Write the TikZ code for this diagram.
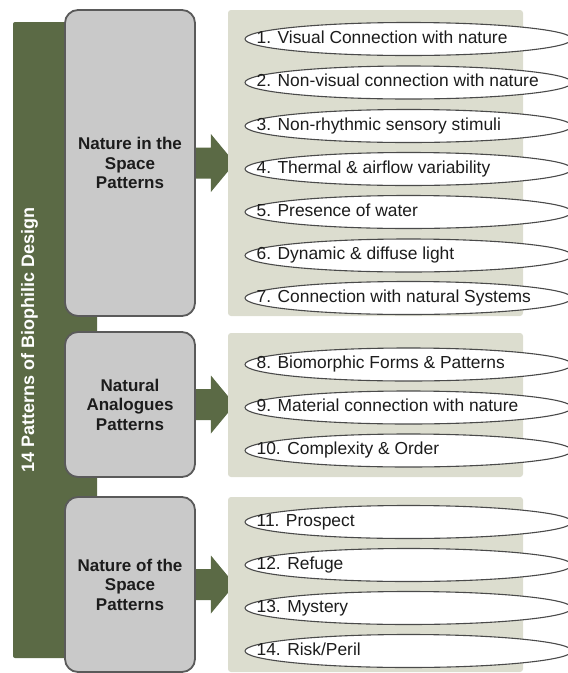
\documentclass[tikz,border=0pt]{standalone}
\usepackage{fontspec}
\setmainfont{Liberation Sans}
\usetikzlibrary{calc,shapes.geometric}
\definecolor{barg}{HTML}{5B6A45}
\definecolor{boxfill}{HTML}{C9C9C9}
\definecolor{boxline}{HTML}{5A5A5A}
\definecolor{panelc}{HTML}{DCDDCF}
\definecolor{elline}{HTML}{4A4A4A}
\definecolor{txt}{HTML}{1C1C1C}
\pgfdeclarelayer{bg}
\pgfsetlayers{bg,main}
\tikzset{
  catbox/.style={draw=boxline, line width=1.8pt, fill=boxfill, rounded corners=13pt,
    minimum width=130pt, inner sep=0pt, align=center, text=txt,
    font=\fontsize{17}{19.5}\selectfont\bfseries},
  panel/.style={fill=panelc, rounded corners=3pt, minimum width=295pt, inner sep=0pt},
  ell/.style={ellipse, draw=elline, line width=1.1pt, fill=white,
    minimum width=327pt, minimum height=33pt, inner sep=0pt},
  etext/.style={anchor=west, inner sep=0pt, text=txt, text height=12.5pt, text depth=3.7pt,
    font=\fontsize{17.4}{20}\selectfont},
  arr/.style={fill=barg},
}
\begin{document}
\begin{tikzpicture}[x=1pt,y=-1pt]
\useasboundingbox (0,0) rectangle (568,673);
\clip (0,0) rectangle (568,673);
% green bar and title
\node[fill=barg, rounded corners=2pt, minimum width=84pt, minimum height=636pt, inner sep=0pt] (bar) at (55,340) {};
\node[rotate=90, inner sep=0pt, text=white, font=\fontsize{18}{20}\selectfont\bfseries] (title) at (29.5,340) {14 Patterns of Biophilic Design};
% panels
\node[panel, minimum height=306pt] (p1) at (375.5,163) {};
\node[panel, minimum height=144pt] (p2) at (375.5,405) {};
\node[panel, minimum height=175pt] (p3) at (375.5,584.5) {};
% category boxes
\node[catbox, minimum height=306pt] (b1) at (130,163) {Nature in the\\Space\\Patterns};
\node[catbox, minimum height=145pt] (b2) at (130,404.5) {Natural\\Analogues\\Patterns};
\node[catbox, minimum height=175pt] (b3) at (130,584.5) {Nature of the\\Space\\Patterns};
% arrows
\begin{pgfonlayer}{bg}
\foreach \b in {b1,b2,b3}{
  \fill[arr] ($(\b.east)+(-2,-15.5)$) -- ($(\b.east)+(15,-15.5)$) -- ($(\b.east)+(15,-29)$)
    -- ($(\b.east)+(39,0)$) -- ($(\b.east)+(15,29)$) -- ($(\b.east)+(15,15.5)$)
    -- ($(\b.east)+(-2,15.5)$) -- cycle;
}
\end{pgfonlayer}
% ellipses
\foreach \n/\y/\t in {
  1/39/{1. Visual Connection with nature},
  2/82.5/{2. Non-visual connection with nature},
  3/126/{3. Non-rhythmic sensory stimuli},
  4/169/{4. Thermal \& airflow variability},
  5/212/{5. Presence of water},
  6/255.5/{6. Dynamic \& diffuse light},
  7/298/{7. Connection with natural Systems},
  8/364.5/{8. Biomorphic Forms \& Patterns},
  9/407.5/{9. Material connection with nature},
  10/450.5/{10. Complexity \& Order},
  11/522/{11. Prospect},
  12/565/{12. Refuge},
  13/608/{13. Mystery},
  14/651/{14. Risk/Peril}}{
  \node[ell] (e\n) at (408.5,\y) {};
  \node[etext] (t\n) at ($(e\n.west)+(12,0)$) {\t};
}
\end{tikzpicture}
\end{document}
